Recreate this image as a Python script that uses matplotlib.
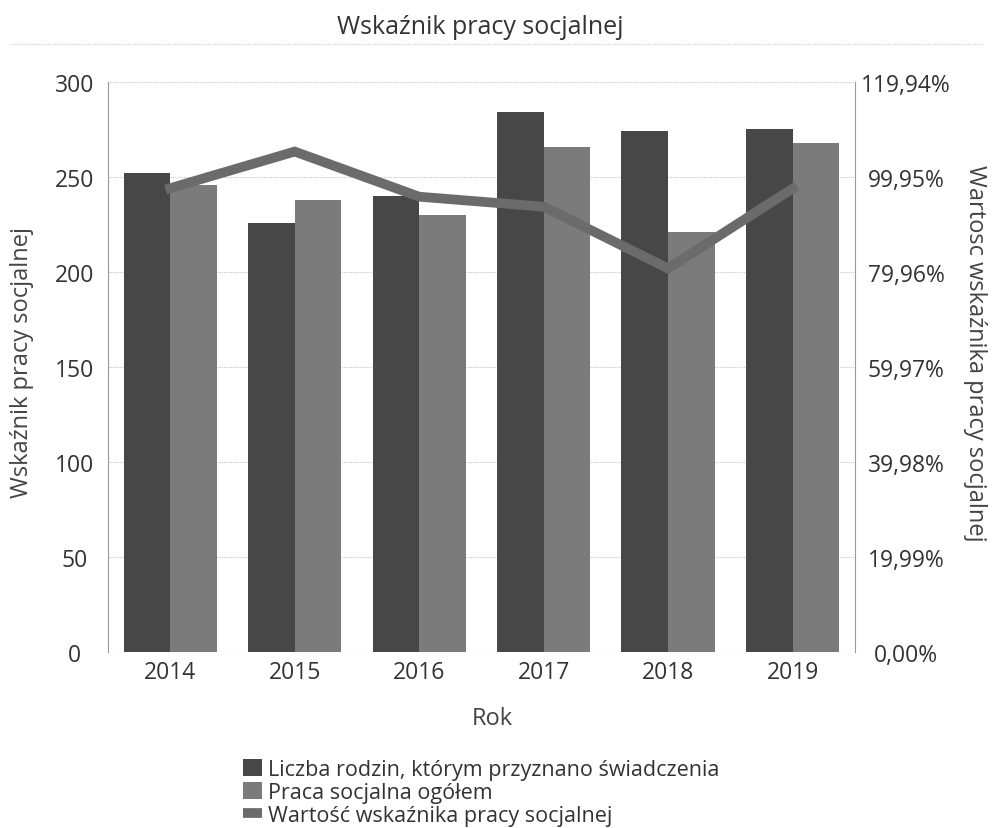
import matplotlib.pyplot as plt
import numpy as np
from matplotlib.lines import Line2D
from matplotlib.ticker import FixedLocator, FuncFormatter

plt.rcParams['font.family'] = ['Open Sans', 'DejaVu Sans']
plt.rcParams['text.color'] = '#333333'

years = ['2014', '2015', '2016', '2017', '2018', '2019']
rodziny = [252, 226, 240, 284, 274, 275]
praca = [246, 238, 230, 266, 221, 268]
wskaznik = [97.6, 105.3, 95.8, 93.7, 80.7, 97.5]

left_ticks = [0, 50, 100, 150, 200, 250, 300]
right_max = 119.94
right_step = 19.99

c_dark = '#474747'
c_light = '#7b7b7b'
c_line = '#6b6b6b'
c_grid = '#c8c8c8'

fig = plt.figure(figsize=(9.93, 8.29), dpi=100)
ax = fig.add_axes([0.1088, 0.2123, 0.752, 0.6876])

x = np.arange(len(years))
w = 0.375
ax.bar(x - w / 2, rodziny, w, color=c_dark, label='Liczba rodzin, którym przyznano świadczenia')
ax.bar(x + w / 2, praca, w, color=c_light, label='Praca socjalna ogółem')

ax.set_xlim(-0.5, len(years) - 0.5)
ax.set_ylim(0, 300)
ax.set_yticks(left_ticks)
ax.set_xticks(x)
ax.set_xticklabels(years)
ax.set_axisbelow(True)
ax.yaxis.grid(True, color=c_grid, linestyle=(0, (1, 1)), linewidth=0.8)

for s in ['top', 'bottom']:
    ax.spines[s].set_visible(False)
for s in ['left', 'right']:
    ax.spines[s].set_color('#9a9a9a')
    ax.spines[s].set_linestyle((0, (1, 1)))
    ax.spines[s].set_linewidth(0.8)

ax.tick_params(axis='y', length=0, pad=24, labelsize=16.5, labelcolor='#333333')
ax.tick_params(axis='x', length=0, pad=6, labelsize=16.5, labelcolor='#333333')
for lbl in ax.get_yticklabels():
    lbl.set_ha('center')

ax.set_xlabel('Rok', fontsize=17, color='#444444')
ax.xaxis.label.set_va('center')
ax.xaxis.set_label_coords(0.515, -0.115)
ax.set_ylabel('Wskaźnik pracy socjalnej', fontsize=17, color='#444444')
ax.yaxis.label.set_va('center')
ax.yaxis.set_label_coords(-0.115, 0.51)

ax2 = ax.twinx()
ax2.plot(x, wskaznik, color=c_line, linewidth=7, solid_joinstyle='miter',
         label='Wartość wskaźnika pracy socjalnej')
ax2.set_ylim(0, right_max)
ax2.yaxis.set_major_locator(FixedLocator([i * right_step for i in range(7)]))
ax2.yaxis.set_major_formatter(FuncFormatter(lambda v, p: f'{v:.2f}%'.replace('.', ',')))
ax2.tick_params(axis='y', length=0, pad=37, labelsize=16.5, labelcolor='#333333')
for lbl in ax2.get_yticklabels():
    lbl.set_ha('center')
for s in ax2.spines.values():
    s.set_visible(False)
ax2.set_ylabel('Wartosc wskaźnika pracy socjalnej', fontsize=17, rotation=-90, color='#444444')
ax2.yaxis.label.set_va('center')
ax2.yaxis.set_label_coords(1.161, 0.525)

fig.text(0.484, 0.967, 'Wskaźnik pracy socjalnej', ha='center', va='center',
         fontsize=18, color='#333333')
fig.add_artist(Line2D([0.01, 0.99], [0.9457, 0.9457], color='#d0d0d0',
                      linestyle=(0, (1, 1)), linewidth=0.8))

h1, l1 = ax.get_legend_handles_labels()
h2 = [Line2D([0], [0], color=c_line, linewidth=7, solid_capstyle='butt')]
l2 = ['Wartość wskaźnika pracy socjalnej']
fig.legend(h1 + h2, l1 + l2, loc='upper left', bbox_to_anchor=(0.245, 0.083),
           frameon=False, fontsize=15.5, handlelength=0.85, handleheight=0.85,
           handletextpad=0.3, labelspacing=0.08, borderpad=0, borderaxespad=0)

fig.savefig('out.png', dpi=100)
